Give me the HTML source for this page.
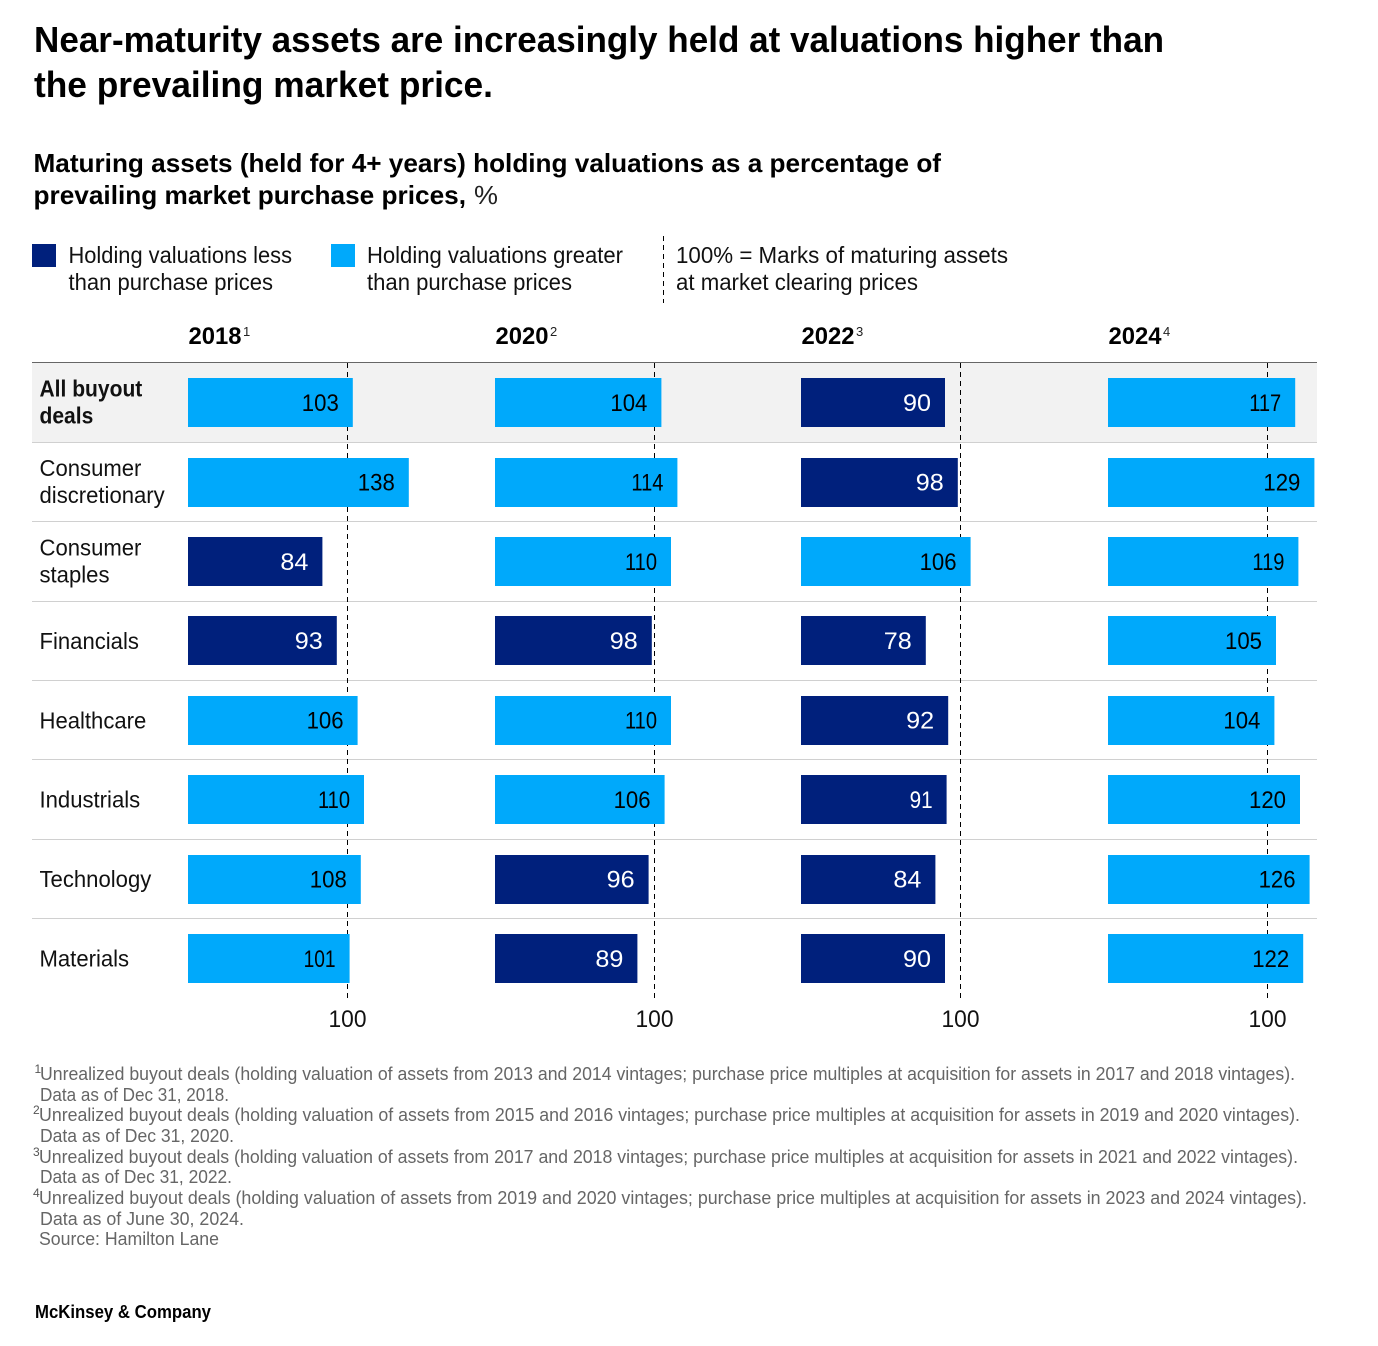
<!DOCTYPE html>
<html lang="en">
<head>
<meta charset="utf-8">
<title>Near-maturity assets valuations</title>
<style>
html,body{margin:0;padding:0;background:#fff;width:1378px;height:1346px;overflow:hidden}
svg{display:block;font-family:"Liberation Sans",sans-serif}
.t{font-size:36px;font-weight:700;fill:#000}
.s{font-size:26px;font-weight:700;fill:#000}
.l{font-size:23.5px;fill:#111}
.y{font-size:24px;font-weight:700;fill:#000}
.sup{font-size:13px;fill:#222}
.f{font-size:18.5px;fill:#666}
.fs{font-size:12px;fill:#555}
</style>
</head>
<body>
<svg id="chart" xmlns="http://www.w3.org/2000/svg" width="1378" height="1346" viewBox="0 0 1378 1346">
<g>
<text class="t" x="34" y="52" textLength="1130" lengthAdjust="spacingAndGlyphs">Near-maturity assets are increasingly held at valuations higher than</text>
<text class="t" x="34" y="97" textLength="459" lengthAdjust="spacingAndGlyphs">the prevailing market price.</text>
</g>
<g>
<text class="s" x="33.5" y="172" textLength="907.5" lengthAdjust="spacingAndGlyphs">Maturing assets (held for 4+ years) holding valuations as a percentage of</text>
<text class="s" x="33.5" y="204" textLength="432.5" lengthAdjust="spacingAndGlyphs">prevailing market purchase prices,</text>
<text x="474" y="204" font-size="26" fill="#222" textLength="24" lengthAdjust="spacingAndGlyphs">%</text>
</g>
<g>
<rect x="32" y="244" width="24" height="23" fill="#00207C"/>
<text class="l" x="68.5" y="263" textLength="223.5" lengthAdjust="spacingAndGlyphs">Holding valuations less</text>
<text class="l" x="68.5" y="290" textLength="204.5" lengthAdjust="spacingAndGlyphs">than purchase prices</text>
</g>
<g>
<rect x="331" y="244" width="24" height="23" fill="#00A9FB"/>
<text class="l" x="367" y="263" textLength="256" lengthAdjust="spacingAndGlyphs">Holding valuations greater</text>
<text class="l" x="367" y="290" textLength="205" lengthAdjust="spacingAndGlyphs">than purchase prices</text>
</g>
<line x1="663.5" y1="236" x2="663.5" y2="303" stroke="#000" stroke-width="1" stroke-dasharray="5 4"/>
<g>
<text class="l" x="676" y="263" textLength="332" lengthAdjust="spacingAndGlyphs">100% = Marks of maturing assets</text>
<text class="l" x="676" y="290" textLength="242" lengthAdjust="spacingAndGlyphs">at market clearing prices</text>
</g>
<g id="plot"></g>
<g>
<text class="fs" x="34.5" y="1073">1</text>
<text class="f" x="40" y="1080" textLength="1255" lengthAdjust="spacingAndGlyphs">Unrealized buyout deals (holding valuation of assets from 2013 and 2014 vintages; purchase price multiples at acquisition for assets in 2017 and 2018 vintages).</text>
<text class="f" x="40" y="1101" textLength="189" lengthAdjust="spacingAndGlyphs">Data as of Dec 31, 2018.</text>
<text class="fs" x="33" y="1114">2</text>
<text class="f" x="39" y="1121" textLength="1261" lengthAdjust="spacingAndGlyphs">Unrealized buyout deals (holding valuation of assets from 2015 and 2016 vintages; purchase price multiples at acquisition for assets in 2019 and 2020 vintages).</text>
<text class="f" x="40" y="1142" textLength="194" lengthAdjust="spacingAndGlyphs">Data as of Dec 31, 2020.</text>
<text class="fs" x="33" y="1156">3</text>
<text class="f" x="39" y="1163" textLength="1259" lengthAdjust="spacingAndGlyphs">Unrealized buyout deals (holding valuation of assets from 2017 and 2018 vintages; purchase price multiples at acquisition for assets in 2021 and 2022 vintages).</text>
<text class="f" x="40" y="1183" textLength="192" lengthAdjust="spacingAndGlyphs">Data as of Dec 31, 2022.</text>
<text class="fs" x="33" y="1197">4</text>
<text class="f" x="39" y="1204" textLength="1268" lengthAdjust="spacingAndGlyphs">Unrealized buyout deals (holding valuation of assets from 2019 and 2020 vintages; purchase price multiples at acquisition for assets in 2023 and 2024 vintages).</text>
<text class="f" x="40" y="1225" textLength="204" lengthAdjust="spacingAndGlyphs">Data as of June 30, 2024.</text>
<text class="f" x="39" y="1245" textLength="180" lengthAdjust="spacingAndGlyphs">Source: Hamilton Lane</text>
</g>
<text x="35" y="1318" font-size="18" font-weight="700" fill="#000" textLength="176" lengthAdjust="spacingAndGlyphs">McKinsey &amp; Company</text>
</svg>
<script>
const categories = [["All buyout","deals"],["Consumer","discretionary"],["Consumer","staples"],["Financials"],["Healthcare"],["Industrials"],["Technology"],["Materials"]];
const years = ["2018","2020","2022","2024"];
const yearNotes = ["1","2","3","4"];
const values2018 = [103,138,84,93,106,110,108,101];
const values2020 = [104,114,110,98,110,106,96,89];
const values2022 = [90,98,106,78,92,91,84,90];
const values2024 = [117,129,119,105,104,120,126,122];
const referenceValue = 100;

const series = [values2018, values2020, values2022, values2024];
const NS = "http://www.w3.org/2000/svg";
const plot = document.getElementById("plot");
const panelStart = [188, 495, 801, 1108];
const pxPerUnit = 1.6;
const rowTop = 363, rowStep = 79.4, barInset = 15, barHeight = 49;
const LOW = "#00207C", HIGH = "#00A9FB";

function xScale(panel, v) { return panelStart[panel] + v * pxPerUnit; }
function rowY(i) { return rowTop + i * rowStep; }
function make(tag, attrs, parent) {
  const el = document.createElementNS(NS, tag);
  for (const k in attrs) el.setAttribute(k, attrs[k]);
  (parent || plot).appendChild(el);
  return el;
}
function digitWidth(s) {
  let w = 0;
  for (const c of s) w += (c === "1" ? 9 : 14);
  return w;
}

// highlighted row and rules
const hl = make("rect", {x:32, y:rowTop, width:1285, height:rowStep, fill:"#F2F2F2"});


const topRule = make("line", {x1:32, x2:1317, y1:362.5, y2:362.5, stroke:"#666", "stroke-width":1});


categories.forEach(function (cat, i) {
  if (i === 0) return;
  const sy = Math.floor(rowY(i) - 0.1) + 0.5;
  const sep = make("line", {x1:32, x2:1317, y1:sy, y2:sy, stroke:"#D0D0D0", "stroke-width":1});
  
  
});

// reference lines, under the bars
series.forEach(function (vals, p) {
  const x = Math.floor(xScale(p, referenceValue)) - 0.5;
  const ref = make("line", {x1:x, x2:x, y1:rowTop, y2:998, stroke:"#000", "stroke-width":1, "stroke-dasharray":"5 4"});
  
  
  const tick = make("text", {x:x, y:1027, "text-anchor":"middle", "font-size":24, fill:"#111", textLength:38, lengthAdjust:"spacingAndGlyphs"});
  
  
  tick.textContent = String(referenceValue);
});

// year headers
years.forEach(function (yr, p) {
  const h = make("text", {"class":"y", x:panelStart[p] + 0.5, y:344, textLength:53, lengthAdjust:"spacingAndGlyphs"});
  
  
  h.textContent = yr;
  const n = make("text", {"class":"sup", x:panelStart[p] + 55, y:336});
  
  
  n.textContent = yearNotes[p];
});

// row labels
categories.forEach(function (lines, i) {
  const mid = rowY(i) + rowStep / 2;
  lines.forEach(function (line, j) {
    const y = lines.length === 2 ? mid - 6 + j * 27 : mid + 8;
    const t = make("text", {x:39.5, y:y, "font-size":23.5, fill:"#111", "font-weight": i === 0 ? 700 : 400});
    
    
    t.textContent = line;
    t.setAttribute("textLength", (t.getComputedTextLength() * (i === 0 ? 0.895 : 0.94)).toFixed(1));
    t.setAttribute("lengthAdjust", "spacingAndGlyphs");
  });
});

// bars and value labels
series.forEach(function (vals, p) {
  vals.forEach(function (v, i) {
    const x0 = xScale(p, 0), x1 = xScale(p, v), y = rowY(i) + barInset;
    const bar = make("rect", {x:x0, y:Math.ceil(y - 0.25), width:x1 - x0, height:barHeight, fill: v < referenceValue ? LOW : HIGH});
    
    
    const s = String(v);
    const lab = make("text", {x:x1 - 14, y:y + 33, "text-anchor":"end", "font-size":24, fill: v < referenceValue ? "#fff" : "#000", textLength:digitWidth(s), lengthAdjust:"spacingAndGlyphs"});
    
    
    lab.textContent = s;
  });
});
</script>
</body>
</html>
